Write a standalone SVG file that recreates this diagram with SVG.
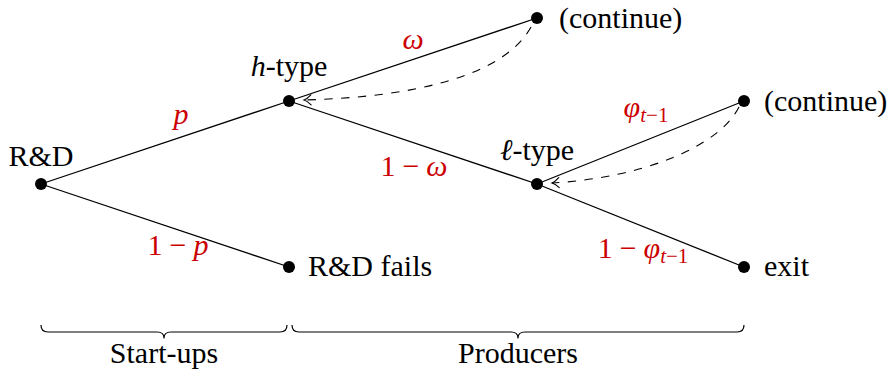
<svg xmlns="http://www.w3.org/2000/svg" width="893" height="371" viewBox="0 0 893 371">
  <style>
    text { font-size: 30px; fill: #000; }
    .it { font-style: italic; }
    .prob { fill: #cc0000; text-anchor: middle; }
    .prob tspan { fill: #cc0000; }
    .sub { font-size: 21px; }
    .edge { stroke: #000; stroke-width: 1.3; fill: none; }
    .loop { stroke: #000; stroke-width: 1.1; fill: none; stroke-dasharray: 8.4 8.4; marker-end: url(#open); }
    .brace { stroke: #000; stroke-width: 1.2; fill: none; stroke-linejoin: round; }
    .dot { fill: #000; }
    .mid { text-anchor: middle; }
  </style>
  <defs>
    <marker id="open" markerUnits="userSpaceOnUse" markerWidth="20" markerHeight="20" refX="0" refY="0" viewBox="-10 -10 20 20" orient="auto">
      <path d="M -7,-5 Q -3,-1 0,0 Q -3,1 -7,5" fill="none" stroke="#000" stroke-width="1.1" stroke-linecap="round"/>
    </marker>
  </defs>

  <!-- tree edges and return loops -->
  <g id="connectors">
    <line class="edge" x1="41" y1="184" x2="289" y2="101"/>
    <line class="edge" x1="41" y1="184" x2="289" y2="267"/>
    <line class="edge" x1="289" y1="101" x2="537" y2="18"/>
    <line class="edge" x1="289" y1="101" x2="537" y2="184"/>
    <line class="edge" x1="537" y1="184" x2="744" y2="101"/>
    <line class="edge" x1="537" y1="184" x2="744" y2="267"/>
    <path class="loop" d="M 531,27 C 505,74 420,97 304,100"/>
    <path class="loop" d="M 739,107 C 718,148 640,178 552,183"/>
  </g>

  <!-- branch probabilities -->
  <g id="edge-labels">
    <text class="prob it" font-family="Liberation Serif" x="181" y="124">p</text>
    <text class="prob" font-family="Liberation Serif" x="178" y="255">1<tspan dx="7">−</tspan><tspan class="it" dx="7">p</tspan></text>
    <text class="prob it" font-family="Liberation Serif" x="413" y="49">ω</text>
    <text class="prob" font-family="Liberation Serif" x="414" y="176">1<tspan dx="7">−</tspan><tspan class="it" dx="7">ω</tspan></text>
    <text class="prob" font-family="Liberation Serif" x="646" y="117"><tspan class="it">φ</tspan><tspan class="sub it" dy="5">t</tspan><tspan class="sub">−1</tspan></text>
    <text class="prob" font-family="Liberation Serif" x="643" y="258">1<tspan dx="7">−</tspan><tspan class="it" dx="7">φ</tspan><tspan class="sub it" dy="5">t</tspan><tspan class="sub">−1</tspan></text>
  </g>

  <g id="rd">
    <circle class="dot" cx="41" cy="184" r="6"/>
    <text class="mid" font-family="Liberation Serif" x="41" y="166">R&amp;D</text>
  </g>
  <g id="h-type">
    <circle class="dot" cx="289" cy="101" r="6"/>
    <text class="mid" font-family="Liberation Serif" x="289" y="76"><tspan class="it">h</tspan>-type</text>
  </g>
  <g id="rd-fails">
    <circle class="dot" cx="289" cy="267" r="6"/>
    <text font-family="Liberation Serif" x="308" y="276">R&amp;D fails</text>
  </g>
  <g id="continue-h">
    <circle class="dot" cx="537" cy="18" r="6"/>
    <text font-family="Liberation Serif" x="559" y="28">(continue)</text>
  </g>
  <g id="l-type">
    <circle class="dot" cx="537" cy="184" r="6"/>
    <text class="mid" font-family="Liberation Serif" x="537" y="160"><tspan class="it">ℓ</tspan>-type</text>
  </g>
  <g id="continue-l">
    <circle class="dot" cx="744" cy="101" r="6"/>
    <text font-family="Liberation Serif" x="764" y="111">(continue)</text>
  </g>
  <g id="exit">
    <circle class="dot" cx="744" cy="267" r="6"/>
    <text font-family="Liberation Serif" x="764" y="276">exit</text>
  </g>

  <!-- stage braces -->
  <g id="stages">
    <path class="brace" d="M 41,325 Q 41,332 48,332 L 157,332 Q 164,332 164,338 Q 164,332 171,332 L 280,332 Q 287,332 287,325"/>
    <text class="mid" font-family="Liberation Serif" x="164" y="363">Start-ups</text>
    <path class="brace" d="M 292,325 Q 292,332 299,332 L 511,332 Q 518,332 518,338 Q 518,332 525,332 L 737,332 Q 744,332 744,325"/>
    <text class="mid" font-family="Liberation Serif" x="518" y="363">Producers</text>
  </g>
</svg>
